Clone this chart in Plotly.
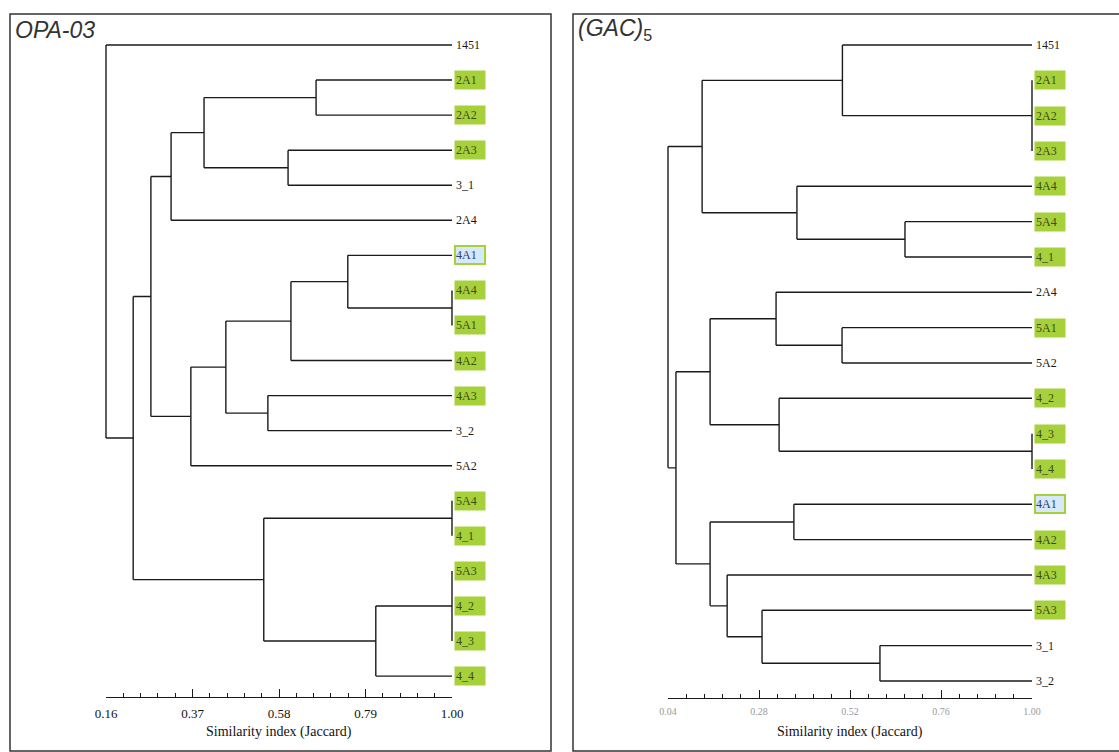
import plotly.graph_objects as go

W, H = 1119, 752

# ---------------- data ----------------
opa_leaves = ["1451", "2A1", "2A2", "2A3", "3_1", "2A4", "4A1", "4A4", "5A1",
              "4A2", "4A3", "3_2", "5A2", "5A4", "4_1", "5A3", "4_2", "4_3", "4_4"]
opa_merges = [
    ("m1", ["2A1", "2A2"], 0.670),
    ("m2", ["2A3", "3_1"], 0.602),
    ("m3", ["m1", "m2"], 0.398),
    ("m4", ["m3", "2A4"], 0.318),
    ("m5", ["4A4", "5A1"], 1.00),
    ("m6", ["4A1", "m5"], 0.747),
    ("m7", ["m6", "4A2"], 0.609),
    ("m8", ["4A3", "3_2"], 0.553),
    ("m9", ["m7", "m8"], 0.451),
    ("m10", ["m9", "5A2"], 0.366),
    ("m11", ["m4", "m10"], 0.269),
    ("m12", ["5A4", "4_1"], 1.00),
    ("m13", ["5A3", "4_2", "4_3"], 1.00),
    ("m14", ["m13", "4_4"], 0.815),
    ("m15", ["m12", "m14"], 0.543),
    ("m16", ["m11", "m15"], 0.226),
    ("m17", ["1451", "m16"], 0.16),
]
opa_ticks = [0.16, 0.37, 0.58, 0.79, 1.00]

gac_leaves = ["1451", "2A1", "2A2", "2A3", "4A4", "5A4", "4_1", "2A4", "5A1",
              "5A2", "4_2", "4_3", "4_4", "4A1", "4A2", "4A3", "5A3", "3_1", "3_2"]
gac_merges = [
    ("r1", ["2A1", "2A2", "2A3"], 1.00),
    ("r2", ["1451", "r1"], 0.500),
    ("r3", ["5A4", "4_1"], 0.665),
    ("r4", ["4A4", "r3"], 0.380),
    ("r5", ["r2", "r4"], 0.130),
    ("r6", ["5A1", "5A2"], 0.499),
    ("r7", ["2A4", "r6"], 0.325),
    ("r8", ["4_3", "4_4"], 1.00),
    ("r9", ["4_2", "r8"], 0.333),
    ("r10", ["r7", "r9"], 0.151),
    ("r11", ["4A1", "4A2"], 0.372),
    ("r12", ["3_1", "3_2"], 0.599),
    ("r13", ["5A3", "r12"], 0.288),
    ("r14", ["4A3", "r13"], 0.196),
    ("r15", ["r11", "r14"], 0.151),
    ("r16", ["r10", "r15"], 0.061),
    ("r17", ["r5", "r16"], 0.04),
]
gac_ticks = [0.04, 0.28, 0.52, 0.76, 1.00]

# leaves shown on a green tag; one accession on a blue tag
green_tags = {"2A1", "2A2", "2A3", "4A4", "5A1", "4A2", "4A3", "5A4", "4_1",
              "5A3", "4_2", "4_3", "4_4"}
blue_tags = {"4A1"}

GREEN = "#a6d13a"
BLUE_FILL = "#d6e8fa"
LINE = "#1a1a1a"


def xp(px):
    return px / W


def yp(py):
    return 1 - py / H


def tree_segments(leaves, merges):
    pos = {name: (1.0, i) for i, name in enumerate(leaves)}
    xs, ys = [], []
    for node, kids, sim in merges:
        kid_y = [pos[k][1] for k in kids]
        xs += [sim, sim, None]
        ys += [min(kid_y), max(kid_y), None]
        for k in kids:
            kx, ky = pos[k]
            xs += [sim, kx, None]
            ys += [ky, ky, None]
        pos[node] = (sim, (min(kid_y) + max(kid_y)) / 2)
    return xs, ys


fig = go.Figure()

panels = [
    dict(leaves=opa_leaves, merges=opa_merges, ticks=opa_ticks,
         ax_px=(106, 452), axis_py=697, leaf_top=45, leaf_step=35.06,
         tick_font=dict(family="Liberation Serif", size=13, color="#111"),
         title="<i>OPA-03</i>", title_px=13, frame=(10, 551)),
    dict(leaves=gac_leaves, merges=gac_merges, ticks=gac_ticks,
         ax_px=(668, 1032), axis_py=698, leaf_top=45, leaf_step=35.33,
         tick_font=dict(family="Liberation Serif", size=10, color="#9a9a9a"),
         title="<i>(GAC)</i><sub>5</sub>", title_px=576, frame=(573, 1125)),
]

layout_axes = {}
annotations = []
shapes = []

for p_i, P in enumerate(panels):
    lo, hi = P["ticks"][0], P["ticks"][-1]
    a0, a1 = P["ax_px"]
    scale = (a1 - a0) / (hi - lo)
    pad = 0.06
    tx, ty = 2 * p_i + 1, 2 * p_i + 1
    kx, ky = 2 * p_i + 2, 2 * p_i + 2

    # tree axes (same scale as the similarity axis, widened so edge lines are not clipped)
    top_px, bot_px = 20, 690
    i_top = (top_px - P["leaf_top"]) / P["leaf_step"]
    i_bot = (bot_px - P["leaf_top"]) / P["leaf_step"]
    layout_axes[f"xaxis{tx}"] = dict(
        domain=[xp(a0 - pad * scale), xp(a1 + pad * scale)],
        range=[lo - pad, hi + pad], visible=False, anchor=f"y{ty}",
        automargin=False)
    layout_axes[f"yaxis{ty}"] = dict(
        domain=[yp(bot_px), yp(top_px)], range=[i_bot, i_top],
        visible=False, anchor=f"x{tx}", automargin=False)

    xs, ys = tree_segments(P["leaves"], P["merges"])
    fig.add_trace(go.Scatter(x=xs, y=ys, mode="lines",
                             line=dict(color=LINE, width=1.4),
                             xaxis=f"x{tx}", yaxis=f"y{ty}",
                             hoverinfo="skip", showlegend=False))

    # similarity scale
    step = P["ticks"][1] - P["ticks"][0]
    minor_vals = [t + step * k / 5 for t in P["ticks"][:-1] for k in range(1, 5)]
    layout_axes[f"xaxis{kx}"] = dict(
        domain=[xp(a0), xp(a1)], range=[lo, hi], anchor=f"y{ky}",
        showline=True, linecolor=LINE, linewidth=1.4,
        ticks="inside", ticklen=8, tickwidth=1.4, tickcolor=LINE,
        tickmode="array", tickvals=P["ticks"],
        ticktext=[f"{t:.2f}" for t in P["ticks"]],
        tickfont=P["tick_font"], ticklabelstandoff=4,
        minor=dict(tickmode="array", tickvals=minor_vals, ticks="inside",
                   ticklen=4, tickwidth=1.2, tickcolor=LINE),
        showgrid=False, zeroline=False, fixedrange=True, automargin=False)
    layout_axes[f"yaxis{ky}"] = dict(
        domain=[yp(P["axis_py"]), yp(P["axis_py"] - 10)], range=[0, 1],
        visible=False, anchor=f"x{kx}", automargin=False)
    fig.add_trace(go.Scatter(x=[lo], y=[-1], mode="markers", opacity=0,
                             xaxis=f"x{kx}", yaxis=f"y{ky}",
                             hoverinfo="skip", showlegend=False))

    annotations.append(dict(
        text="Similarity index (Jaccard)", xref="paper", yref="paper",
        x=xp((a0 + a1) / 2), y=yp(732), xanchor="center", yanchor="middle",
        showarrow=False,
        font=dict(family="Liberation Serif", size=14, color="#111")))

    # leaf labels
    for i, name in enumerate(P["leaves"]):
        ann = dict(text=name, x=hi, y=i, xref=f"x{tx}", yref=f"y{ty}",
                   xanchor="left", yanchor="middle", xshift=2,
                   showarrow=False, align="left", width=28, height=16,
                   font=dict(family="Liberation Serif", size=12, color="#1a1a1a"))
        if name in green_tags:
            ann.update(bgcolor=GREEN, borderpad=1, font=dict(
                family="Liberation Serif", size=12, color="#3d4a1c"))
        elif name in blue_tags:
            ann.update(bgcolor=BLUE_FILL, bordercolor=GREEN, borderwidth=2,
                       borderpad=0, font=dict(family="Liberation Serif",
                                              size=12, color="#2a3a6a"))
        annotations.append(ann)

    # panel title and frame
    annotations.append(dict(
        text=P["title"], xref="paper", yref="paper", x=xp(P["title_px"]),
        y=yp(30), xanchor="left", yanchor="middle", showarrow=False,
        font=dict(family="Liberation Sans", size=23, color="#333")))
    f0, f1 = P["frame"]
    shapes.append(dict(type="rect", xref="paper", yref="paper",
                       x0=xp(f0), x1=xp(f1), y0=yp(751), y1=yp(14),
                       line=dict(color="#333", width=1.5),
                       fillcolor="rgba(0,0,0,0)"))

fig.update_layout(
    width=W, height=H, autosize=False,
    margin=dict(l=0, r=0, t=0, b=0, autoexpand=False),
    paper_bgcolor="white", plot_bgcolor="rgba(0,0,0,0)",
    showlegend=False, annotations=annotations, shapes=shapes,
    **layout_axes)

fig.write_html("out.html")
